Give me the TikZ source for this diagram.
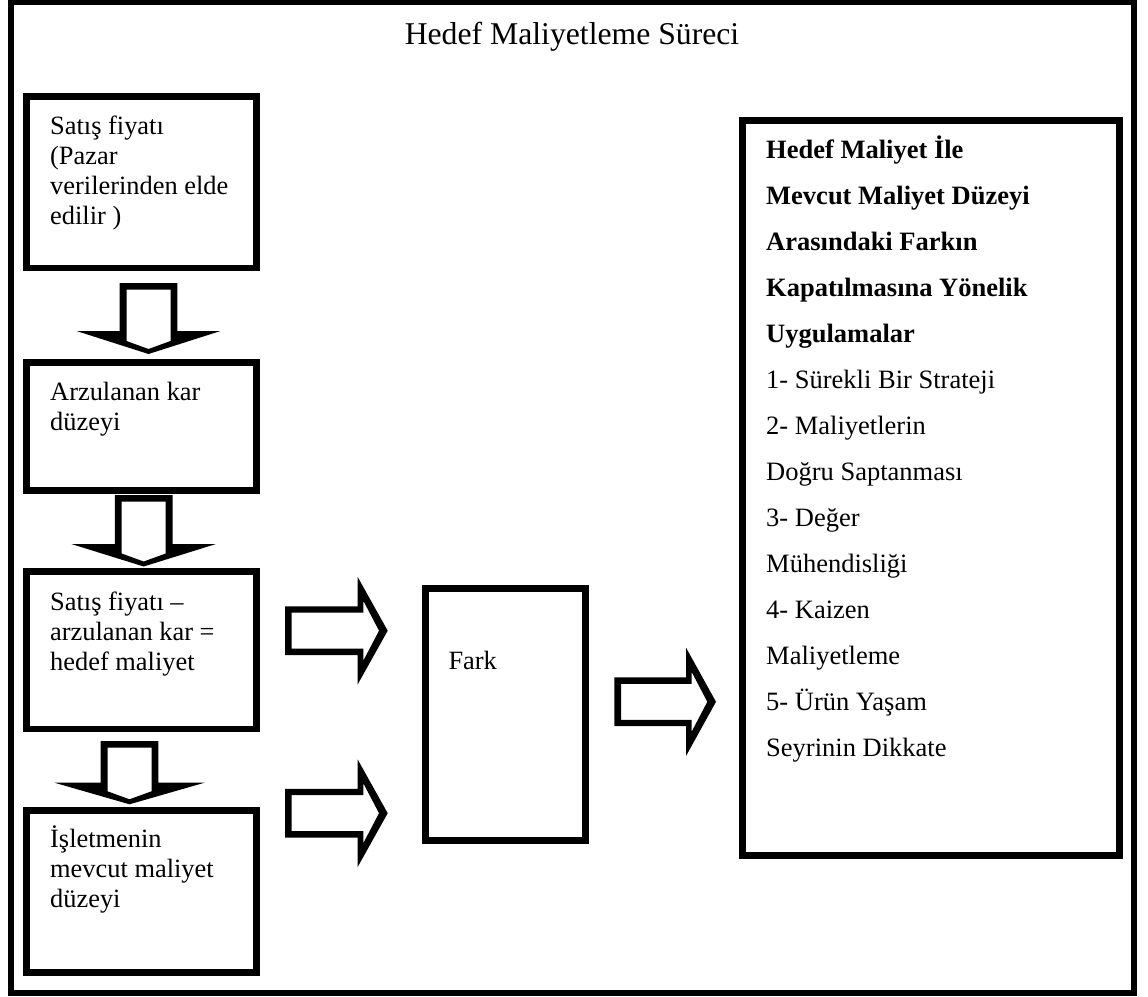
\documentclass[tikz,border=0pt]{standalone}
\usepackage{fontspec}
\setmainfont{Liberation Serif}
\newcommand\DArrow[5]{% cx, top, wing y, tip y, wing half-span
  \fill[black,even odd rule]
    (#1-28.8,#2) -- (#1+28.8,#2) -- (#1+28.8,#3) -- (#1+#5,#3) -- (#1,#4) -- (#1-#5,#3) -- (#1-28.8,#3) -- cycle
    (#1-22,#2+6.6) -- (#1+22,#2+6.6) -- (#1+22,#4-13) -- (#1,#4-5) -- (#1-22,#4-13) -- cycle;}
\newcommand\RArrow[5]{% left x, center y, wing x, tip x, wing half-span
  \fill[black,even odd rule]
    (#1,#2-24.4) -- (#3,#2-24.4) -- (#3,#2-#5) -- (#4,#2) -- (#3,#2+#5) -- (#3,#2+24.4) -- (#1,#2+24.4) -- cycle
    (#1+6.7,#2-18) -- (#3+5.6,#2-18) -- (#3+5.6,#2-30) -- (#4-8.7,#2) -- (#3+5.6,#2+30) -- (#3+5.6,#2+18) -- (#1+6.7,#2+18) -- cycle;}
\tikzset{
  boxstyle/.style={draw=black, line width=6.6pt, fill=white, inner sep=0pt, minimum width=229.5pt},
  bodytext/.style={font=\fontsize{26.4}{30.3}\selectfont, inner sep=0pt, anchor=base west},
  righttext/.style={font=\fontsize{26.5}{46}\selectfont, inner sep=0pt, anchor=base west},
}
\begin{document}
\begin{tikzpicture}[x=1pt,y=-1pt]
\useasboundingbox (0,0) rectangle (1148,996);
\fill[white] (0,0) rectangle (1148,996);
% outer frame
\node[draw=black, line width=6pt, inner sep=0pt, minimum width=1122.8pt, minimum height=991.5pt] (frame) at (572.1,497.25) {};
% title
\node[font=\fontsize{31.7}{38}\selectfont, inner sep=0pt, anchor=base] (title) at (572,44) {Hedef Maliyetleme Süreci};
% left boxes
\node[boxstyle, minimum height=171.3pt] (b1) at (141.45,182.35) {};
\node[boxstyle, minimum height=128.2pt] (b2) at (141.5,426.4) {};
\node[boxstyle, minimum height=157.3pt] (b3) at (141.5,650.35) {};
\node[boxstyle, minimum height=162pt] (b4) at (141.5,891.7) {};
\node[bodytext] (t1) at (50,134) {\parbox[t]{210pt}{\raggedright Satış fiyatı\\(Pazar\\verilerinden elde\\edilir )}};
\node[bodytext] (t2) at (50,400) {\parbox[t]{210pt}{\raggedright Arzulanan kar\\düzeyi}};
\node[bodytext] (t3) at (50,610) {\parbox[t]{210pt}{\raggedright Satış fiyatı --\\arzulanan kar =\\hedef maliyet}};
\node[bodytext] (t4) at (50,847.3) {\parbox[t]{210pt}{\raggedright İşletmenin\\mevcut maliyet\\düzeyi}};
% fark box
\node[draw=black, line width=6.6pt, inner sep=0pt, minimum width=160pt, minimum height=252.4pt] (fark) at (505.7,714.5) {};
\node[bodytext] (tf) at (448.3,669) {Fark};
% right box
\node[draw=black, line width=7pt, inner sep=0pt, minimum width=376.3pt, minimum height=735.3pt] (rbox) at (930.85,487.65) {};
\node[righttext] (tr) at (766,158.3) {\parbox[t]{345pt}{\raggedright
  \textbf{Hedef Maliyet İle}\\
  \textbf{Mevcut Maliyet Düzeyi}\\
  \textbf{Arasındaki Farkın}\\
  \textbf{Kapatılmasına Yönelik}\\
  \textbf{Uygulamalar}\\
  1- Sürekli Bir Strateji\\
  2- Maliyetlerin\\
  Doğru Saptanması\\
  3- Değer\\
  Mühendisliği\\
  4- Kaizen\\
  Maliyetleme\\
  5- Ürün Yaşam\\
  Seyrinin Dikkate}};
% block arrows
\DArrow{148.5}{283}{331}{354}{72}
\DArrow{143.7}{495}{544}{566.5}{72.3}
\DArrow{129.5}{741}{782.7}{804.3}{75}
\RArrow{285}{630.7}{357.7}{387.7}{53.7}
\RArrow{285}{813.2}{357.7}{387.7}{53.7}
\RArrow{614.3}{701.8}{686}{716}{54.2}
\end{tikzpicture}
\end{document}
